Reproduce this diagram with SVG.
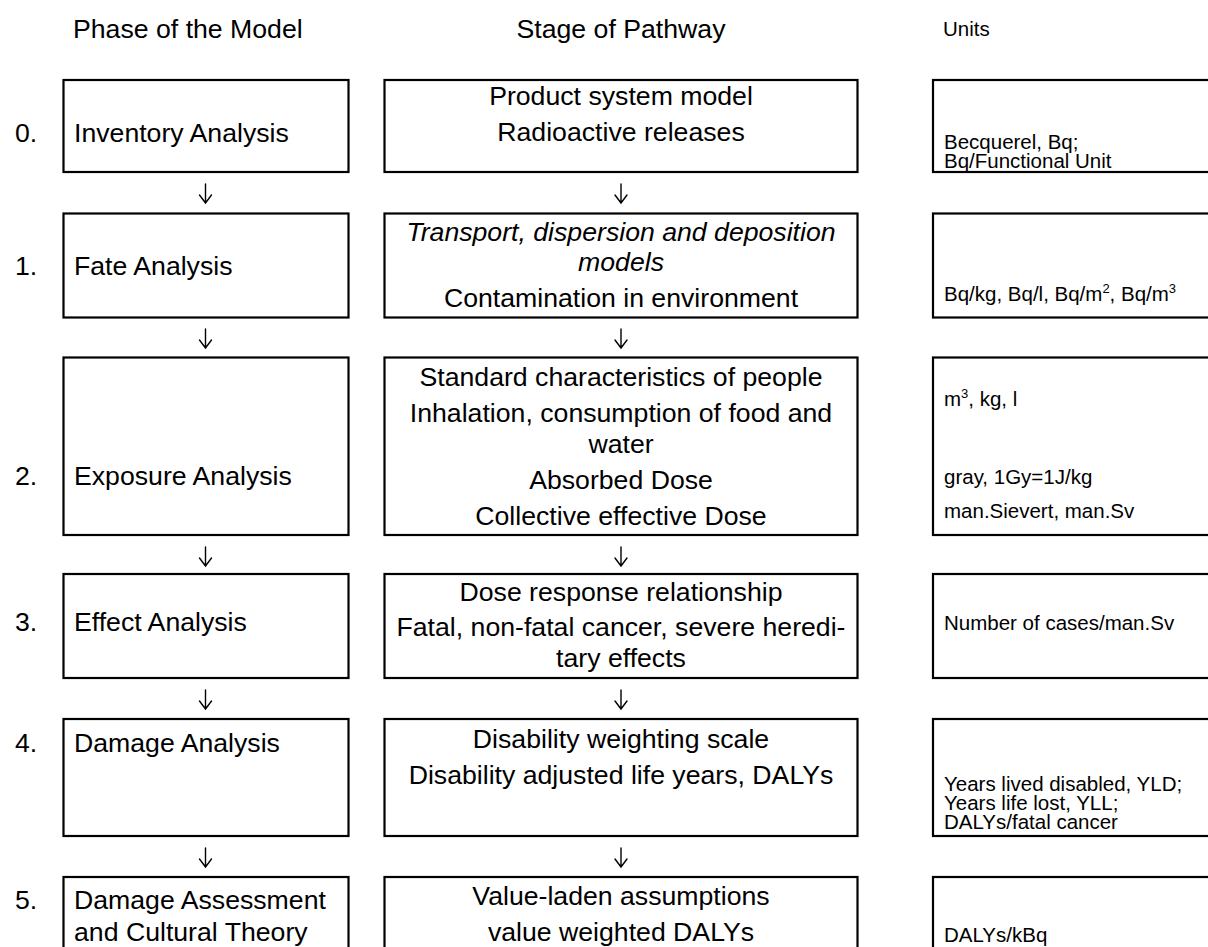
<svg xmlns="http://www.w3.org/2000/svg" width="1208" height="947" viewBox="0 0 1208 947">
<style>
text{font-family:"Liberation Sans",Arial,sans-serif;fill:#000}
.h{font-size:26.67px}
.b{font-size:26.67px}
.c{text-anchor:middle}
.i{font-style:italic}
.u{font-size:20.5px}
.sup{font-size:13px}
.box{fill:#fff;stroke:#000;stroke-width:2.2}
.arr{fill:none;stroke:#000;stroke-width:1.4;stroke-linecap:round;stroke-linejoin:miter}
</style>
<rect width="1208" height="947" fill="#fff"/>
<g id="headers">
<text class="h" x="73" y="38">Phase of the Model</text>
<text class="h c" x="621" y="38">Stage of Pathway</text>
<text class="u" x="943" y="36">Units</text>
</g>
<g id="connectors">
<path class="arr" d="M205.5,184V203M199.5,195L205.5,203L211.5,195"/>
<path class="arr" d="M621,184V203M615,195L621,203L627,195"/>
<path class="arr" d="M205.5,329V348M199.5,340L205.5,348L211.5,340"/>
<path class="arr" d="M621,329V348M615,340L621,348L627,340"/>
<path class="arr" d="M205.5,547V566M199.5,558L205.5,566L211.5,558"/>
<path class="arr" d="M621,547V566M615,558L621,566L627,558"/>
<path class="arr" d="M205.5,690V709M199.5,701L205.5,709L211.5,701"/>
<path class="arr" d="M621,690V709M615,701L621,709L627,701"/>
<path class="arr" d="M205.5,848V867M199.5,859L205.5,867L211.5,859"/>
<path class="arr" d="M621,848V867M615,859L621,867L627,859"/>
</g>
<g id="phase0">
<text class="b" x="15" y="142">0.</text>
<rect class="box" x="63.5" y="80" width="285" height="92"/>
<text class="b" x="74" y="142">Inventory Analysis</text>
</g>
<g id="stage0">
<rect class="box" x="384.5" y="80" width="473" height="92"/>
<text class="b c" x="621" y="105">Product system model</text>
<text class="b c" x="621" y="141">Radioactive releases</text>
</g>
<g id="units0">
<rect class="box" x="933" y="80" width="290" height="92"/>
<text class="u" x="944" y="149">Becquerel, Bq;</text>
<text class="u" x="944" y="168">Bq/Functional Unit</text>
</g>
<g id="phase1">
<text class="b" x="15" y="275">1.</text>
<rect class="box" x="63.5" y="213.5" width="285" height="104"/>
<text class="b" x="74" y="275">Fate Analysis</text>
</g>
<g id="stage1">
<rect class="box" x="384.5" y="213.5" width="473" height="104"/>
<text class="b c i" x="621" y="241">Transport, dispersion and deposition</text>
<text class="b c i" x="621" y="271">models</text>
<text class="b c" x="621" y="307">Contamination in environment</text>
</g>
<g id="units1">
<rect class="box" x="933" y="213.5" width="290" height="104"/>
<text class="u" x="944" y="301">Bq/kg, Bq/l, Bq/m<tspan class="sup" dy="-8">2</tspan><tspan dy="8">, Bq/m</tspan><tspan class="sup" dy="-8">3</tspan></text>
</g>
<g id="phase2">
<text class="b" x="15" y="485">2.</text>
<rect class="box" x="63.5" y="357.5" width="285" height="177.5"/>
<text class="b" x="74" y="485">Exposure Analysis</text>
</g>
<g id="stage2">
<rect class="box" x="384.5" y="357.5" width="473" height="177.5"/>
<text class="b c" x="621" y="386">Standard characteristics of people</text>
<text class="b c" x="621" y="422">Inhalation, consumption of food and</text>
<text class="b c" x="621" y="453">water</text>
<text class="b c" x="621" y="489">Absorbed Dose</text>
<text class="b c" x="621" y="525">Collective effective Dose</text>
</g>
<g id="units2">
<rect class="box" x="933" y="357.5" width="290" height="177.5"/>
<text class="u" x="944" y="406">m<tspan class="sup" dy="-8">3</tspan><tspan dy="8">, kg, l</tspan></text>
<text class="u" x="944" y="484">gray, 1Gy=1J/kg</text>
<text class="u" x="944" y="518">man.Sievert, man.Sv</text>
</g>
<g id="phase3">
<text class="b" x="15" y="631">3.</text>
<rect class="box" x="63.5" y="574" width="285" height="104"/>
<text class="b" x="74" y="631">Effect Analysis</text>
</g>
<g id="stage3">
<rect class="box" x="384.5" y="574" width="473" height="104"/>
<text class="b c" x="621" y="601">Dose response relationship</text>
<text class="b c" x="621" y="636">Fatal, non-fatal cancer, severe heredi-</text>
<text class="b c" x="621" y="667">tary effects</text>
</g>
<g id="units3">
<rect class="box" x="933" y="574" width="290" height="104"/>
<text class="u" x="944" y="630">Number of cases/man.Sv</text>
</g>
<g id="phase4">
<text class="b" x="15" y="752">4.</text>
<rect class="box" x="63.5" y="719" width="285" height="117"/>
<text class="b" x="74" y="752">Damage Analysis</text>
</g>
<g id="stage4">
<rect class="box" x="384.5" y="719" width="473" height="117"/>
<text class="b c" x="621" y="748">Disability weighting scale</text>
<text class="b c" x="621" y="784">Disability adjusted life years, DALYs</text>
</g>
<g id="units4">
<rect class="box" x="933" y="719" width="290" height="117"/>
<text class="u" x="944" y="791">Years lived disabled, YLD;</text>
<text class="u" x="944" y="810">Years life lost, YLL;</text>
<text class="u" x="944" y="829">DALYs/fatal cancer</text>
</g>
<g id="phase5">
<text class="b" x="15" y="909">5.</text>
<rect class="box" x="63.5" y="877" width="285" height="90"/>
<text class="b" x="74" y="909">Damage Assessment</text>
<text class="b" x="74" y="941">and Cultural Theory</text>
</g>
<g id="stage5">
<rect class="box" x="384.5" y="877" width="473" height="90"/>
<text class="b c" x="621" y="905">Value-laden assumptions</text>
<text class="b c" x="621" y="941">value weighted DALYs</text>
</g>
<g id="units5">
<rect class="box" x="933" y="877" width="290" height="90"/>
<text class="u" x="944" y="942">DALYs/kBq</text>
</g>
</svg>
